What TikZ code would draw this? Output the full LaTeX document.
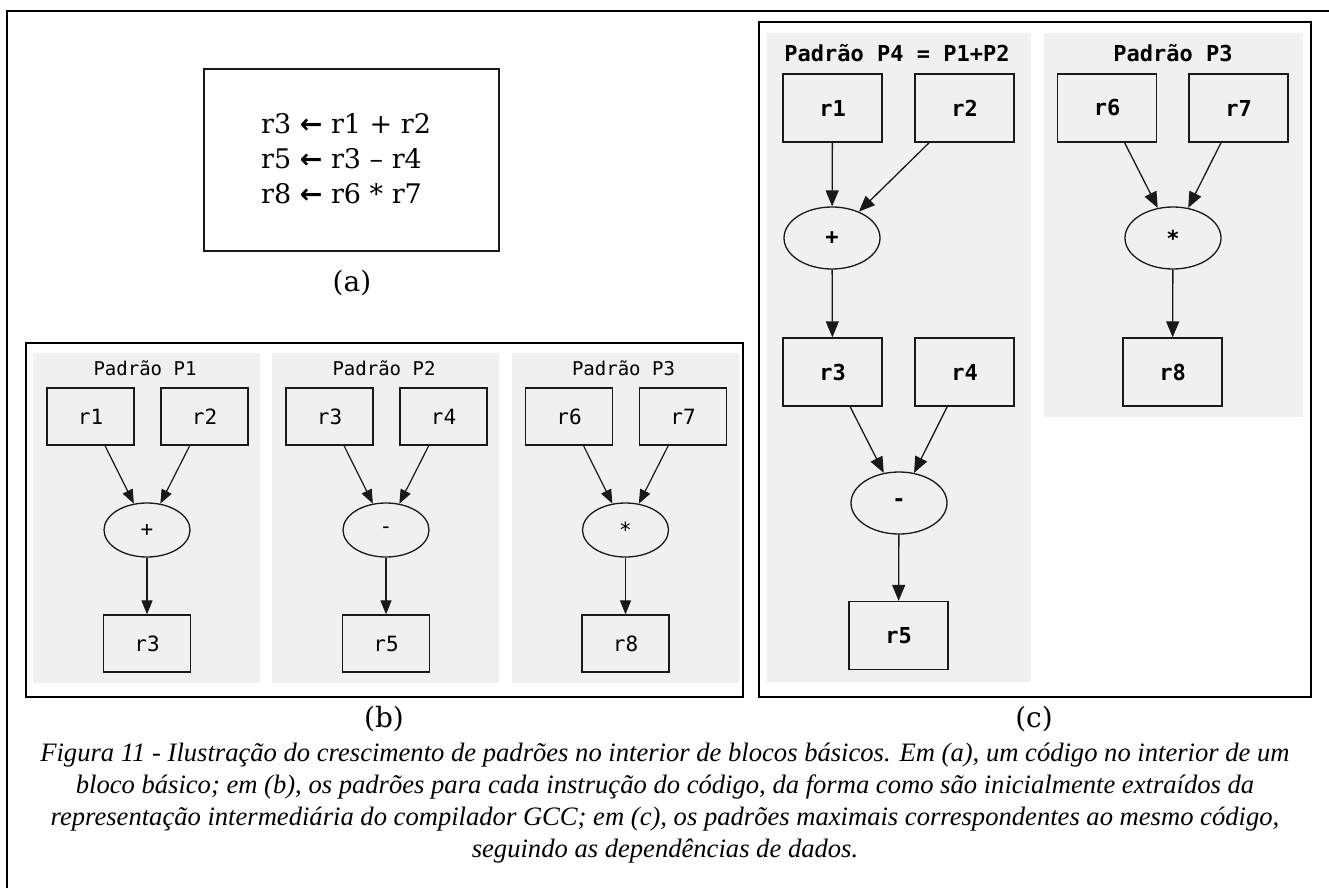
\documentclass[tikz,border=0pt]{standalone}
\usepackage{fontspec}
\setmainfont{DejaVu Serif}
\setmonofont{DejaVu Sans Mono}
\newfontfamily\capfont{Liberation Serif}
\newfontfamily\arrowfont{DejaVu Sans}
\newcommand{\assign}{{\arrowfont\bfseries ←}}
\usetikzlibrary{arrows.meta,shapes.geometric}
\definecolor{panelgray}{RGB}{240,240,240}
\definecolor{ink}{RGB}{25,25,25}

\begin{document}
\begin{tikzpicture}[x=1pt,y=-1pt,
  frame/.style={draw=black,line width=2pt},
  serifbig/.style={font=\fontsize{27}{30}\selectfont,inner sep=0pt},
  sublabel/.style={font=\fontsize{28}{30}\selectfont,inner sep=0pt},
  % pattern graphs of panel (b)
  ptitle/.style={font=\ttfamily\fontsize{19}{19}\selectfont,inner sep=0pt},
  regbox/.style={draw=ink,line width=1.3pt,minimum width=87pt,minimum height=57pt,
    inner sep=0pt,font=\ttfamily\fontsize{21}{21}\selectfont},
  opnode/.style={ellipse,draw=ink,line width=1.3pt,minimum width=86pt,minimum height=54pt,
    inner sep=0pt,font=\ttfamily\fontsize{21}{21}\selectfont},
  flow/.style={draw=ink,line width=1.2pt,-{Triangle[length=14pt,width=11pt]}},
  % pattern graphs of panel (c)
  ptitlec/.style={font=\ttfamily\bfseries\fontsize{22}{22}\selectfont,inner sep=0pt},
  regboxc/.style={draw=ink,line width=1.3pt,minimum width=99pt,minimum height=68pt,
    inner sep=0pt,font=\ttfamily\bfseries\fontsize{22}{22}\selectfont},
  opnodec/.style={ellipse,draw=ink,line width=1.3pt,minimum width=96pt,minimum height=62pt,
    inner sep=0pt,font=\ttfamily\bfseries\fontsize{22}{22}\selectfont},
  flowc/.style={draw=ink,line width=1.3pt,-{Triangle[length=16pt,width=13pt]}}
]
\useasboundingbox (0,0) rectangle (1329,888);

% outer figure frame
\draw[frame] (7,888) -- (7,11) -- (1329,11);

% (a) code block
\draw[draw=ink,line width=1.2pt] (204,69) rectangle (499,251);
\node[serifbig,anchor=base west] (l1) at (261,133) {r3 \assign{} r1 + r2};
\node[serifbig,anchor=base west] (l2) at (261,168) {r5 \assign{} r3 – r4};
\node[serifbig,anchor=base west] (l3) at (261,203) {r8 \assign{} r6 * r7};
\node[sublabel] (lba) at (352,283) {(a)};

% (b) one pattern per instruction
\draw[line width=2.5pt] (26,343) rectangle (743,697);
\foreach \k/\dx/\ra/\rb/\op/\rc/\pn in
  {1/0/r1/r2/+/r3/P1, 2/239/r3/r4/-/r5/P2, 3/478.5/r6/r7/*/r8/P3} {
  \fill[panelgray] (33+\dx,353) rectangle (260+\dx,683);
  \node[ptitle] (b\k-t) at (145+\dx,368) {Padrão \pn};
  \node[regbox] (b\k-a) at (90.5+\dx,416.5) {\ra};
  \node[regbox] (b\k-b) at (204.5+\dx,416.5) {\rb};
  \node[opnode] (b\k-op) at (147+\dx,530) {\op};
  \node[regbox] (b\k-c) at (147+\dx,643.5) {\rc};
  \draw[flow] (b\k-a) -- (b\k-op);
  \draw[flow] (b\k-b) -- (b\k-op);
  \draw[flow] (b\k-op) -- (b\k-c);
}
\node[sublabel] (lbb) at (384,719) {(b)};

% (c) maximal patterns
\draw[frame] (759,22) rectangle (1311,697);
\fill[panelgray] (767,33) rectangle (1031,682);
\fill[panelgray] (1044,33) rectangle (1303,417);

\node[ptitlec] (c4-t) at (897,53) {Padrão P4 = P1+P2};
\node[regboxc] (c4-r1) at (832.5,108) {r1};
\node[regboxc] (c4-r2) at (964.5,108) {r2};
\node[opnodec] (c4-add) at (832,238) {+};
\node[regboxc] (c4-r3) at (832.5,372) {r3};
\node[regboxc] (c4-r4) at (964.5,372) {r4};
\node[opnodec] (c4-sub) at (899,503) {-};
\node[regboxc] (c4-r5) at (898.5,635.5) {r5};
\draw[flowc] (c4-r1) -- (c4-add);
\draw[flowc] (c4-r2) -- (c4-add);
\draw[flowc] (c4-add) -- (c4-r3);
\draw[flowc] (c4-r3) -- (c4-sub);
\draw[flowc] (c4-r4) -- (c4-sub);
\draw[flowc] (c4-sub) -- (c4-r5);

\node[ptitlec] (c3-t) at (1173,53) {Padrão P3};
\node[regboxc] (c3-r6) at (1107,108) {r6};
\node[regboxc] (c3-r7) at (1238.5,108) {r7};
\node[opnodec] (c3-mul) at (1173,238) {*};
\node[regboxc] (c3-r8) at (1172.5,372) {r8};
\draw[flowc] (c3-r6) -- (c3-mul);
\draw[flowc] (c3-r7) -- (c3-mul);
\draw[flowc] (c3-mul) -- (c3-r8);
\node[sublabel] (lbc) at (1034,719) {(c)};

% figure caption
\node[font=\capfont\itshape\fontsize{26.6}{32}\selectfont,align=center,anchor=north,inner sep=0pt]
  (caption) at (665,743)
  {Figura 11 - Ilustração do crescimento de padrões no interior de blocos básicos. Em (a), um código no interior de um\\
   bloco básico; em (b), os padrões para cada instrução do código, da forma como são inicialmente extraídos da\\
   representação intermediária do compilador GCC; em (c), os padrões maximais correspondentes ao mesmo código,\\
   seguindo as dependências de dados.};
\end{tikzpicture}
\end{document}
